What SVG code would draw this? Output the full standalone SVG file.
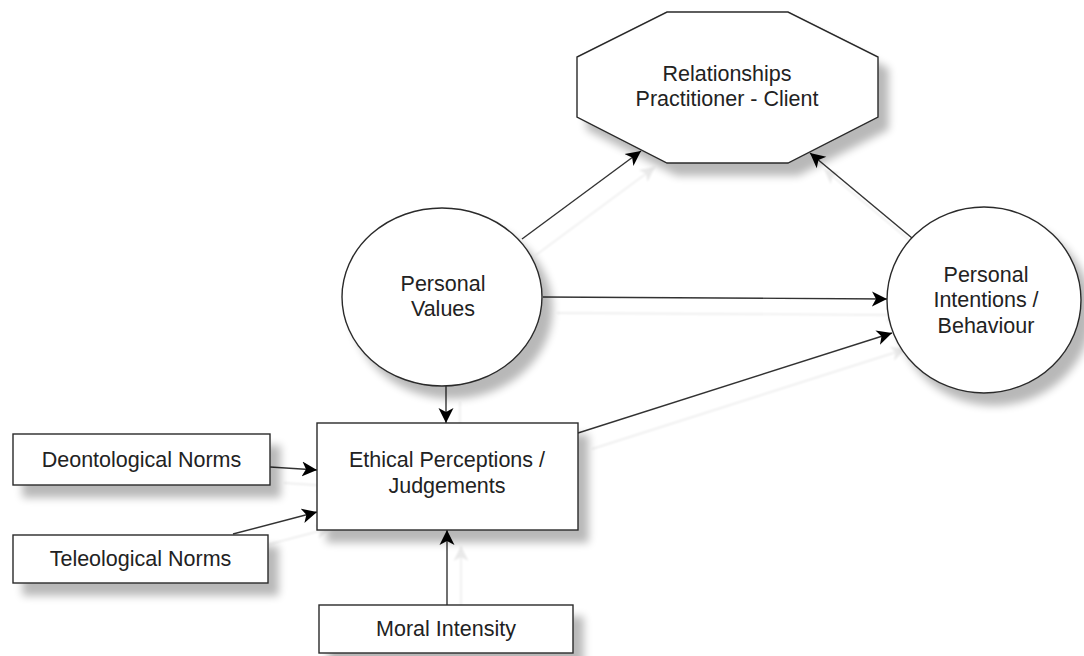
<svg xmlns="http://www.w3.org/2000/svg" width="1084" height="656" viewBox="0 0 1084 656">
  <style>
    .shape { fill: #ffffff; stroke: #2a2a2a; stroke-width: 1.4; filter: url(#shShape); }
    .lbl { font-family: "Liberation Sans", Arial, sans-serif; font-size: 21.5px; fill: #222222; text-anchor: middle; }
    .conn { stroke: #333333; stroke-width: 1.4; fill: none; marker-end: url(#arrow); filter: url(#shLine); }
  </style>
  <defs>
    <filter id="shShape" filterUnits="userSpaceOnUse" x="0" y="0" width="1084" height="656">
      <feGaussianBlur in="SourceAlpha" stdDeviation="4" result="b"/>
      <feOffset in="b" dx="10" dy="12" result="o"/>
      <feComponentTransfer in="o" result="s"><feFuncA type="linear" slope="0.28"/></feComponentTransfer>
      <feMerge><feMergeNode in="s"/><feMergeNode in="SourceGraphic"/></feMerge>
    </filter>
    <filter id="shLine" filterUnits="userSpaceOnUse" x="0" y="0" width="1084" height="656">
      <feGaussianBlur in="SourceAlpha" stdDeviation="1" result="b"/>
      <feOffset in="b" dx="14" dy="16" result="o"/>
      <feComponentTransfer in="o" result="s"><feFuncA type="linear" slope="0.09"/></feComponentTransfer>
      <feMerge><feMergeNode in="s"/><feMergeNode in="SourceGraphic"/></feMerge>
    </filter>
    <marker id="arrow" markerUnits="userSpaceOnUse" markerWidth="16" markerHeight="16" refX="15" refY="8" orient="auto">
      <path d="M0,0.5 L15,8 L0,15.5 L4,8 z" fill="#000000"/>
    </marker>
  </defs>

  <g id="connectors">
    <line class="conn" x1="522" y1="239" x2="641" y2="151"/>
    <line class="conn" x1="912" y1="238" x2="810" y2="153"/>
    <line class="conn" x1="543" y1="297" x2="887" y2="299"/>
    <line class="conn" x1="578" y1="433" x2="892" y2="333"/>
    <line class="conn" x1="446" y1="386" x2="446" y2="423"/>
    <line class="conn" x1="270" y1="467" x2="317" y2="470"/>
    <line class="conn" x1="233" y1="534" x2="317" y2="512"/>
    <line class="conn" x1="447" y1="605" x2="447" y2="530"/>
  </g>

  <g id="relationships">
    <polygon class="shape" points="667,12 788,12 878,57 878,117 788,163 667,163 577,117 577,57"/>
    <text class="lbl" x="727" y="81">Relationships</text>
    <text class="lbl" x="727" y="106">Practitioner - Client</text>
  </g>

  <g id="personal-values">
    <ellipse class="shape" cx="442" cy="297" rx="100" ry="89"/>
    <text class="lbl" x="443" y="291">Personal</text>
    <text class="lbl" x="443" y="316">Values</text>
  </g>

  <g id="personal-intentions">
    <ellipse class="shape" cx="984" cy="300" rx="97" ry="93"/>
    <text class="lbl" x="986" y="282">Personal</text>
    <text class="lbl" x="986" y="307">Intentions /</text>
    <text class="lbl" x="986" y="333">Behaviour</text>
  </g>

  <g id="ethical">
    <rect class="shape" x="317" y="423" width="261" height="107"/>
    <text class="lbl" x="447" y="467">Ethical Perceptions /</text>
    <text class="lbl" x="447" y="493">Judgements</text>
  </g>

  <g id="deontological">
    <rect class="shape" x="13" y="434" width="257" height="51"/>
    <text class="lbl" x="141.5" y="467">Deontological Norms</text>
  </g>

  <g id="teleological">
    <rect class="shape" x="13" y="535" width="255" height="48"/>
    <text class="lbl" x="140.5" y="566">Teleological Norms</text>
  </g>

  <g id="moral-intensity">
    <rect class="shape" x="319" y="605" width="254" height="48"/>
    <text class="lbl" x="446" y="636">Moral Intensity</text>
  </g>
</svg>
